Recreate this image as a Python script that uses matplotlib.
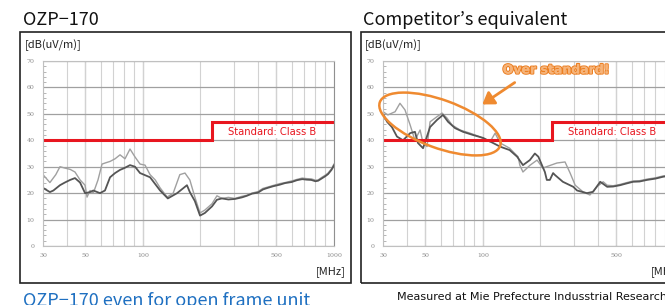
import numpy as np
import matplotlib
matplotlib.use('Agg')
import matplotlib.pyplot as plt
from matplotlib.patches import Rectangle, Ellipse, FancyArrowPatch
import matplotlib.patheffects as pe

plt.rcParams['font.family'] = ['Noto Sans CJK JP', 'DejaVu Sans']

W, H = 665, 305

# OZP-170 (left) emission traces, MHz / dB(uV/m)
ozp_light_f = [30, 32.6, 35, 36.8, 39, 41.6, 44.1, 46.9, 49.8, 51, 52.9, 55, 58.2, 61.1, 64, 67.3,
               71.5, 75.9, 80.6, 85.6, 90.9, 96.6, 102.6, 109, 116, 123, 134, 144, 156, 166, 176,
               187, 199, 211, 230, 244, 259, 280, 303, 330, 350, 372, 400, 425, 450, 480, 520, 554,
               600, 640, 682, 720, 760, 800, 826, 860, 900, 931, 970, 1000]
ozp_light_db = [27, 24, 27, 30, 29.5, 29, 28, 25, 23, 18.5, 21, 20, 25, 31, 31.5, 32,
                33, 34.5, 33, 36.7, 33.7, 31, 30.6, 27, 25, 22, 18.5, 20, 27, 27.6, 25,
                18.5, 12.5, 13.6, 16, 19, 18, 18.4, 18, 18.8, 19.2, 20, 20.6, 21.8, 22.3, 22.9, 23.6, 24,
                24.6, 25.2, 25.7, 25.5, 25.4, 24.9, 25, 25.9, 26.8, 27.6, 29.2, 31]
ozp_dark_f = [30, 32.6, 34, 36.8, 39, 41.6, 44.1, 46.9, 49.8, 52.9, 55, 59.6, 63.3, 67.3, 71.5,
              75.9, 80, 85.6, 90.9, 96.6, 109, 123, 135, 151, 170, 176, 187, 199, 211, 230, 244,
              259, 280, 303, 330, 350, 372, 400, 425, 450, 480, 520, 554, 600, 640, 682, 720,
              760, 800, 826, 860, 900, 931, 970, 1000]
ozp_dark_db = [22, 20.4, 21, 23, 24, 25, 25.7, 24, 20, 20.4, 21, 20, 21, 26, 27.6,
               28.8, 29.5, 30.6, 30, 27.6, 26, 21, 18, 20, 23, 20.4, 17, 11.5, 12.5, 15, 17.5,
               18, 17.6, 17.8, 18.4, 19, 19.8, 20.2, 21.4, 22, 22.6, 23.2, 23.8, 24.2, 24.9, 25.3, 25.1,
               25, 24.5, 24.7, 25.5, 26.4, 27.2, 28.8, 30.5]

# Competitor (right) emission traces
comp_light_f = [30, 31.8, 34.7, 36.8, 39.1, 41.6, 44.1, 46.9, 48.6, 51, 52.9, 56.2, 61.1, 64.9,
                68.9, 75.9, 85.6, 96.6, 109, 115.8, 123, 138, 153, 156, 162, 176, 192, 206, 225,
                244, 269, 286, 304, 334, 363, 395, 426, 447, 480, 522, 560, 611, 660, 722, 800,
                876, 1000]
comp_light_db = [50.8, 49.6, 50.8, 54, 51.5, 45.8, 40, 43.9, 39, 37.6, 47, 48.4, 50.3, 48.4,
                 45.8, 43.9, 42.7, 41.3, 39.4, 42.7, 39, 37, 33.7, 30.6, 28, 30.5, 32.5, 29.5, 30.5,
                 31.4, 31.8, 27.6, 23, 20.5, 19.3, 22.4, 24.3, 23, 22.8, 23.3, 23.9, 24.6, 24.7, 25.3, 25.8,
                 26.5, 27]
comp_dark_f = [30, 31.5, 33.4, 35.5, 38.2, 41.6, 44.1, 45.7, 48.6, 52.9, 57.5, 61.8, 65.7, 71.5,
               78.7, 88.8, 100.2, 112.8, 123, 138, 151, 162, 176, 187, 195, 211, 216, 224, 233,
               238, 262, 297, 311, 350, 377, 411, 447, 480, 522, 560, 611, 660, 722, 800, 876, 1000]
comp_dark_db = [50, 47, 45, 41.4, 40, 42.7, 43.2, 39, 37, 45, 47.7, 49.6, 47, 44.6,
                43.2, 42, 40.9, 39, 37.6, 36.3, 33.8, 30.6, 32.5, 35, 33.8, 28, 25, 25, 27.6,
                26.9, 24.3, 22.4, 21, 20, 20.5, 24.3, 22.4, 22.5, 23, 23.6, 24.3, 24.4, 25, 25.5, 26.2, 26.8]

# CISPR class B limit
std_f = [30, 230, 230, 1000]
std_db = [40, 40, 47, 47]

y_ticks = [0, 10, 20, 30, 40, 50, 60, 70]
x_ticks = [30, 50, 100, 500, 1000]


def fx(x):
    return x / W


def fy(y):
    return 1 - y / H


fig = plt.figure(figsize=(W / 100, H / 100), dpi=100)

# panel frames
fig.patches.append(Rectangle((fx(20), fy(283)), fx(331), (283 - 32) / H, transform=fig.transFigure,
                             fill=False, ec='#222222', lw=1.2))
fig.patches.append(Rectangle((fx(361), fy(283)), fx(360), (283 - 32) / H, transform=fig.transFigure,
                             fill=False, ec='#222222', lw=1.2))

fig.text(fx(23), fy(20), 'OZP\u2212170', fontsize=13, va='center', ha='left', color='#111111')
fig.text(fx(363), fy(20), 'Competitor\u2019s equivalent', fontsize=13, va='center', ha='left',
         color='#111111')


def panel(x0, light_f, light_db, dark_f, dark_db):
    ax = fig.add_axes([fx(x0), fy(246), (291) / W, (246 - 61) / H])
    ax.set_xscale('log')
    ax.set_xlim(30, 1000)
    ax.set_ylim(0, 70)
    ax.xaxis.grid(True, which='both', color='#d2d2d2', lw=0.8)
    ax.yaxis.grid(True, which='major', color='#a0a0a0', lw=0.9)
    for v in [50, 100, 500]:
        ax.axvline(v, color='#b8b8b8', lw=0.9, zorder=0.5)
    ax.set_axisbelow(True)
    ax.plot(light_f, light_db, color='#a0a0a0', lw=1.0)
    ax.plot(dark_f, dark_db, color='#555555', lw=1.3)
    ax.plot(std_f, std_db, color='#e8161f', lw=2.2, solid_joinstyle='miter')
    ax.text(280, 43.2, 'Standard: Class B', color='#e8161f', fontsize=7.2, va='center', ha='left',
            family=['DejaVu Sans'],
            bbox=dict(facecolor='white', edgecolor='none', pad=0.5))
    ax.set_yticks(y_ticks)
    ax.set_yticks(np.arange(0, 71, 2), minor=True)
    ax.set_xticks(x_ticks)
    ax.set_xticklabels([str(v) for v in x_ticks])
    ax.xaxis.set_minor_formatter(plt.NullFormatter())
    ax.tick_params(axis='both', which='both', labelsize=4.5, labelcolor='#8a8a8a', color='#aaaaaa')
    ax.tick_params(axis='x', which='both', length=0, pad=5)
    ax.tick_params(axis='y', which='major', length=0, pad=6)
    ax.tick_params(axis='y', which='minor', direction='in', length=2.5, width=0.6)
    for lab in ax.get_xticklabels() + ax.get_yticklabels():
        lab.set_family('DejaVu Serif')
    for s in ax.spines.values():
        s.set_color('#c0c0c0')
        s.set_linewidth(0.8)
    ax.spines['right'].set_color('#909090')
    return ax


panel(43, ozp_light_f, ozp_light_db, ozp_dark_f, ozp_dark_db)
panel(383, comp_light_f, comp_light_db, comp_dark_f, comp_dark_db)

fig.text(fx(25), fy(45), '[dB(uV/m)]', fontsize=8, va='center', ha='left', color='#222222')
fig.text(fx(365), fy(45), '[dB(uV/m)]', fontsize=8, va='center', ha='left', color='#222222')
fig.text(fx(346), fy(272), '[MHz]', fontsize=8, va='center', ha='right', color='#222222')
fig.text(fx(651), fy(272), '[MHz]', fontsize=8, va='center', ha='left', color='#222222')

# "over standard" callout on the competitor chart
fig.patches.append(Ellipse((4.40, (H - 124) / 100), 1.28, 0.48, angle=-20, transform=fig.dpi_scale_trans,
                           fill=False, ec='#ef8a30', lw=1.8))
fig.patches.append(FancyArrowPatch((fx(517), fy(81)), (fx(480), fy(106)), transform=fig.transFigure,
                                   arrowstyle='-|>,head_length=4.5,head_width=3', color='#ef8a30',
                                   lw=2.0, mutation_scale=1.5))
fig.text(fx(556), fy(70), 'Over standard!', fontsize=9, fontweight='bold', va='center', ha='center',
         color='#f6b47a', family=['DejaVu Sans'],
         path_effects=[pe.withStroke(linewidth=1.6, foreground='#ec7f22'), pe.Normal()])

fig.text(fx(23), fy(292), 'OZP\u2212170 even for open frame unit', fontsize=13, va='top', ha='left',
         color='#1f70c1')
fig.text(fx(397), fy(297), 'Measured at Mie Prefecture Indusstrial Research Institute', fontsize=8,
         va='center', ha='left', color='#111111', family=['Liberation Sans Narrow', 'DejaVu Sans'])

fig.savefig('out.png', dpi=100)
